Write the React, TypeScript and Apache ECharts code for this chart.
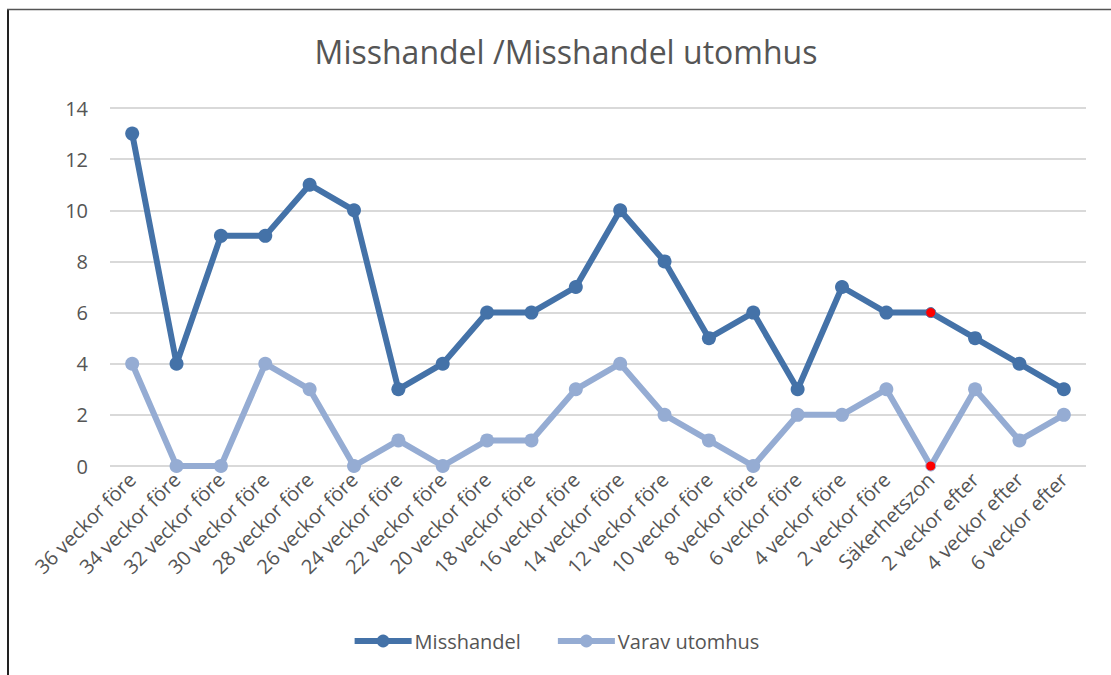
import React, { useEffect, useRef } from "react";
import * as echarts from "echarts";

const categories = [
  "36 veckor före", "34 veckor före", "32 veckor före", "30 veckor före", "28 veckor före",
  "26 veckor före", "24 veckor före", "22 veckor före", "20 veckor före", "18 veckor före",
  "16 veckor före", "14 veckor före", "12 veckor före", "10 veckor före", "8 veckor före",
  "6 veckor före", "4 veckor före", "2 veckor före", "Säkerhetszon", "2 veckor efter",
  "4 veckor efter", "6 veckor efter",
];
const misshandel = [13, 4, 9, 9, 11, 10, 3, 4, 6, 6, 7, 10, 8, 5, 6, 3, 7, 6, 6, 5, 4, 3];
const varavUtomhus = [4, 0, 0, 4, 3, 0, 1, 0, 1, 1, 3, 4, 2, 1, 0, 2, 2, 3, 0, 3, 1, 2];
const highlightCategory = "Säkerhetszon";

const DARK = "#4472A8";
const LIGHT = "#95ACD3";
const TEXT = "#555555";
const FONT = "Open Sans";

function mark(values: number[], color: string) {
  return values.map((v, i) =>
    categories[i] === highlightCategory
      ? { value: v, symbolSize: 10, itemStyle: { color: "#FF0000", borderColor: color, borderWidth: 1 } }
      : v
  );
}

export default function App() {
  const ref = useRef<HTMLDivElement>(null);
  useEffect(() => {
    document.body.style.margin = "0";
    const chart = echarts.init(ref.current!, null, { renderer: "svg" });
    chart.setOption({
      animation: false,
      backgroundColor: "#FFFFFF",
      title: {
        text: "Misshandel /Misshandel utomhus",
        left: 561,
        textAlign: "center",
        top: 30,
        textStyle: { color: TEXT, fontSize: 32, fontWeight: "normal", fontFamily: FONT },
      },
      graphic: [
        { type: "line", shape: { x1: 8, y1: 9, x2: 8, y2: 675 }, style: { stroke: "#222", lineWidth: 2 } },
        { type: "line", shape: { x1: 7, y1: 9.5, x2: 1111, y2: 9.5 }, style: { stroke: "#555", lineWidth: 1.5 } },
      ],
      grid: { left: 110, right: 25, top: 108, bottom: 209 },
      legend: {
        top: 626,
        left: "center",
        itemWidth: 57,
        itemHeight: 16,
        itemGap: 34,
        lineStyle: { width: 6 },
        textStyle: { color: TEXT, fontSize: 20, fontWeight: "normal", fontFamily: FONT, padding: [0, 0, 0, -2] },
        data: ["Misshandel", "Varav utomhus"],
      },
      xAxis: {
        type: "category",
        data: categories,
        boundaryGap: true,
        axisLine: { show: false },
        axisTick: { show: false },
        axisLabel: {
          rotate: 45,
          interval: 0,
          color: TEXT,
          fontSize: 20,
          fontWeight: "normal",
          fontFamily: FONT,
          margin: 10,
        },
      },
      yAxis: {
        type: "value",
        min: 0,
        max: 14,
        interval: 2,
        axisLine: { show: false },
        axisTick: { show: false },
        axisLabel: { color: TEXT, fontSize: 20, fontWeight: "normal", fontFamily: FONT, margin: 22 },
        splitLine: { lineStyle: { color: "#D9D9D9", width: 2 } },
      },
      series: [
        {
          name: "Misshandel",
          type: "line",
          data: mark(misshandel, DARK),
          symbol: "circle",
          symbolSize: 14,
          lineStyle: { color: DARK, width: 6 },
          itemStyle: { color: DARK },
        },
        {
          name: "Varav utomhus",
          type: "line",
          data: mark(varavUtomhus, LIGHT),
          symbol: "circle",
          symbolSize: 14,
          lineStyle: { color: LIGHT, width: 6 },
          itemStyle: { color: LIGHT },
        },
      ],
    });
    return () => chart.dispose();
  }, []);
  return <div ref={ref} style={{ width: 1111, height: 675 }} />;
}
